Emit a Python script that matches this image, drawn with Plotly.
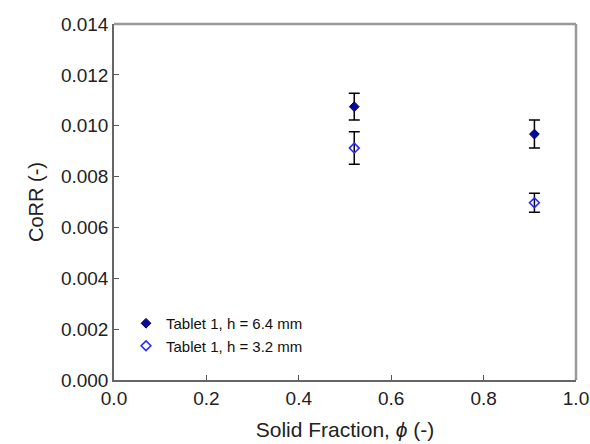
import plotly.graph_objects as go

solid_fraction = [0.52, 0.91]
corr_h64 = [0.01075, 0.00967]
err_h64 = [0.00053, 0.00055]
corr_h32 = [0.00912, 0.00697]
err_h32 = [0.00064, 0.00037]
names = ["Tablet 1, h = 6.4 mm", "Tablet 1, h = 3.2 mm"]
y_ticks = [0.000, 0.002, 0.004, 0.006, 0.008, 0.010, 0.012, 0.014]
x_ticks = [0.0, 0.2, 0.4, 0.6, 0.8, 1.0]

font = "Liberation Sans, Arial, sans-serif"

fig = go.Figure()
fig.add_trace(go.Scatter(
    x=solid_fraction, y=corr_h64, mode="markers", name=names[0],
    marker=dict(symbol="diamond", size=7.5, color="#0a0a9a",
                line=dict(color="#00006a", width=1)),
    error_y=dict(type="data", array=err_h64, visible=True,
                 color="black", thickness=1.5, width=5.5),
))
fig.add_trace(go.Scatter(
    x=solid_fraction, y=corr_h32, mode="markers", name=names[1],
    marker=dict(symbol="diamond-open", size=7.5, color="#2a2aff",
                line=dict(width=1.6)),
    error_y=dict(type="data", array=err_h32, visible=True,
                 color="black", thickness=1.5, width=5.5),
))

fig.update_layout(
    width=590, height=444,
    margin=dict(l=114, r=14, t=24, b=64),
    plot_bgcolor="white", paper_bgcolor="white",
    font=dict(family=font, size=19, color="#222"),
    showlegend=True,
    legend=dict(x=0.026, y=0.205, xanchor="left", yanchor="top",
                bgcolor="rgba(0,0,0,0)", font=dict(size=15, color="#111"),
                itemwidth=30, tracegroupgap=2),
    xaxis=dict(range=[0, 1], tickvals=x_ticks, ticktext=[f"{v:.1f}" for v in x_ticks],
               ticks="inside", ticklen=5, tickcolor="#555", showgrid=False,
               zeroline=False, showline=True, linecolor="#666", linewidth=1.5,
               automargin=False,
               title=dict(text="Solid Fraction, <i>ϕ</i> (-)", font=dict(size=21)),
               tickfont=dict(size=19)),
    yaxis=dict(range=[0, 0.014], tickvals=y_ticks, ticktext=[f"{v:.3f}" for v in y_ticks],
               ticks="inside", ticklen=5, tickcolor="#555", showgrid=False,
               zeroline=False, showline=True, linecolor="#666", linewidth=1.5,
               automargin="width",
               title=dict(text="CoRR (-)", font=dict(size=20), standoff=12),
               tickfont=dict(size=19)),
)
# top and right frame lines
fig.add_shape(type="line", xref="paper", yref="paper", x0=0, x1=1, y0=1, y1=1,
              line=dict(color="#999", width=2.5))
fig.add_shape(type="line", xref="paper", yref="paper", x0=1, x1=1, y0=0, y1=1,
              line=dict(color="#999", width=2.5))

fig.write_html("out.html", config={"displayModeBar": False},
               post_script="document.body.style.margin='0';")
